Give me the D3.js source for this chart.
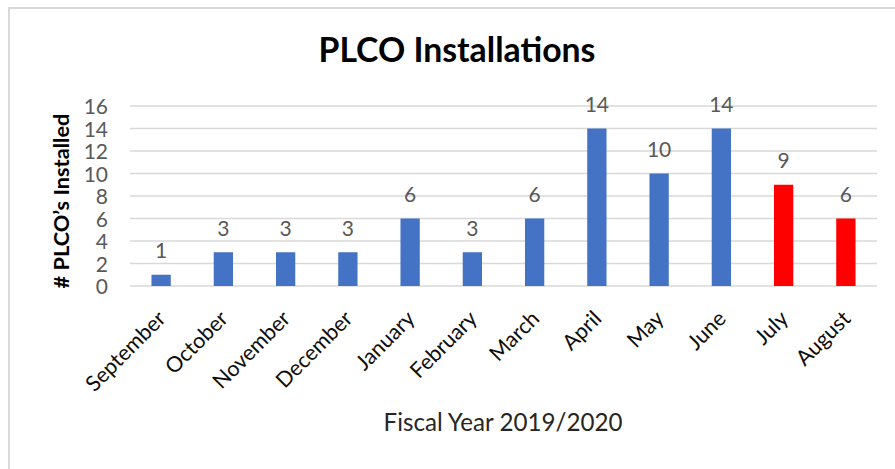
<!DOCTYPE html>
<html>
<head>
<meta charset="utf-8">
<script src="https://cdn.jsdelivr.net/npm/d3@7"></script>
<style>
  html, body { margin: 0; padding: 0; background: #fff; }
  svg { display: block; }
  text { font-family: Lato, "Noto Sans", sans-serif; }
</style>
</head>
<body>
<svg id="chart" width="895" height="469"></svg>
<script>
// Monthly PLCO installations, fiscal year 2019/2020
const months = ["September", "October", "November", "December", "January", "February",
                "March", "April", "May", "June", "July", "August"];
const installed = [1, 3, 3, 3, 6, 3, 6, 14, 10, 14, 9, 6];
const barColors = ["#4472C4", "#4472C4", "#4472C4", "#4472C4", "#4472C4", "#4472C4",
                   "#4472C4", "#4472C4", "#4472C4", "#4472C4", "#FF0000", "#FF0000"];
const yTicks = [0, 2, 4, 6, 8, 10, 12, 14, 16];

const titleText = "PLCO Installations";
const yTitleText = "# PLCO\u2019s Installed";
const xTitleText = "Fiscal Year 2019/2020";

const svg = d3.select("#chart");

// Set a text's font size so its rendered width matches the given width
function fitWidth(sel, width) {
  const node = sel.node();
  const fs = parseFloat(sel.attr("font-size"));
  const w = node.getComputedTextLength();
  sel.attr("font-size", (fs * width / w).toFixed(2));
  return sel;
}

// Chart area frame
svg.append("rect")
  .attr("x", 9).attr("y", 8)
  .attr("width", 920).attr("height", 500)
  .attr("fill", "none")
  .attr("stroke", "#d9d9d9")
  .attr("stroke-width", 2);

const plot = { left: 130, right: 877, top: 106, bottom: 286 };

const x = d3.scaleBand()
  .domain(months)
  .range([plot.left, plot.right])
  .paddingInner(0.69)
  .paddingOuter(0.345);

const y = d3.scaleLinear()
  .domain([0, 16])
  .range([plot.bottom, plot.top]);

// Horizontal gridlines
svg.append("g")
  .selectAll("line")
  .data(yTicks)
  .join("line")
  .attr("x1", plot.left).attr("x2", plot.right)
  .attr("y1", d => y(d)).attr("y2", d => y(d))
  .attr("stroke", "#d9d9d9")
  .attr("stroke-width", 1.5);

// Y axis tick labels
const yAxis = svg.append("g")
  .attr("transform", `translate(${plot.left - 22},0)`)
  .call(d3.axisLeft(y).tickValues(yTicks).tickSize(0).tickPadding(0));
yAxis.select(".domain").remove();
yAxis.selectAll("text")
  .attr("font-family", "Lato, sans-serif")
  .attr("font-size", 21)
  .attr("fill", "#595959")
  .attr("dy", "0.36em");

// Bars
svg.append("g")
  .selectAll("rect")
  .data(months)
  .join("rect")
  .attr("x", d => x(d))
  .attr("width", x.bandwidth())
  .attr("y", (d, i) => y(installed[i]))
  .attr("height", (d, i) => y(0) - y(installed[i]))
  .attr("fill", (d, i) => barColors[i]);

// Value labels above bars
svg.append("g")
  .selectAll("text")
  .data(months)
  .join("text")
  .attr("x", d => x(d) + x.bandwidth() / 2)
  .attr("y", (d, i) => y(installed[i]) - 16.5)
  .attr("text-anchor", "middle")
  .attr("font-size", 21)
  .attr("fill", "#595959")
  .text((d, i) => installed[i]);

// X axis month labels, rotated
const xAxis = svg.append("g")
  .attr("transform", `translate(0,${plot.bottom})`)
  .call(d3.axisBottom(x).tickSize(0).tickPadding(0));
xAxis.select(".domain").remove();
xAxis.selectAll(".tick text")
  .attr("font-family", "Lato, sans-serif")
  .attr("font-size", 21.5)
  .attr("fill", "#0d0d0d")
  .attr("text-anchor", "end")
  .attr("dy", 0)
  .attr("y", 0)
  .attr("transform", "translate(6,34) rotate(-45)");

// Chart title
const title = svg.append("text")
  .attr("x", 457).attr("y", 62)
  .attr("text-anchor", "middle")
  .attr("font-weight", "bold")
  .attr("font-size", 30)
  .attr("fill", "#000")
  .text(titleText);
fitWidth(title, 277);

// Y axis title
const yTitle = svg.append("text")
  .attr("transform", "translate(69,201) rotate(-90)")
  .attr("text-anchor", "middle")
  .attr("font-weight", "bold")
  .attr("font-size", 21)
  .attr("fill", "#000")
  .text(yTitleText);
fitWidth(yTitle, 175);

// X axis title
const xTitle = svg.append("text")
  .attr("x", 503).attr("y", 431)
  .attr("text-anchor", "middle")
  .attr("font-size", 21)
  .attr("fill", "#262626")
  .text(xTitleText);
fitWidth(xTitle, 239);
</script>
</body>
</html>
